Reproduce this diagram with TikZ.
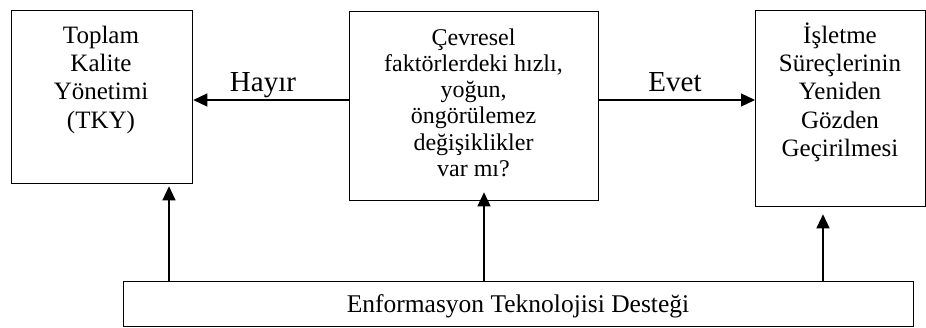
\documentclass[tikz,border=0pt]{standalone}
\usepackage{fontspec}
\setmainfont{Liberation Serif}
\usetikzlibrary{arrows.meta}
\begin{document}
\begin{tikzpicture}[x=1pt,y=-1pt,
  box/.style={draw,line width=1.3pt,inner sep=0pt,anchor=north west},
  boxtext/.style={align=center,inner sep=0pt,anchor=base,font=\fontsize{25}{28.4}\selectfont},
  lbl/.style={inner sep=0pt,anchor=base,font=\fontsize{29}{32}\selectfont},
  arr/.style={line width=1.3pt,-{Triangle[length=14pt,width=13pt]}}]
\useasboundingbox (0,0) rectangle (926,327);

% boxes
\node[box,minimum width=181pt,minimum height=173pt] (tky) at (11,10) {};
\node[box,minimum width=249pt,minimum height=189pt] (mid) at (349,11) {};
\node[box,minimum width=170pt,minimum height=196pt] (isr) at (755,10) {};
\node[box,minimum width=790pt,minimum height=45pt] (it) at (123,281) {};

% box texts (placed by the baseline of their last line)
\node[boxtext] (tkyt) at (101,128.2) {Toplam\\Kalite\\Yönetimi\\(TKY)};
\node[boxtext,font=\fontsize{24}{26.3}\selectfont] (midt) at (473.5,176.5) {Çevresel\\faktörlerdeki hızlı,\\yoğun,\\öngörülemez\\değişiklikler\\var mı?};
\node[boxtext] (isrt) at (840,156.6) {İşletme\\Süreçlerinin\\Yeniden\\Gözden\\Geçirilmesi};
\node[boxtext,font=\fontsize{25.5}{28}\selectfont] (itt) at (518,312) {Enformasyon Teknolojisi Desteği};

% decision arrows
\draw[arr] (mid.west |- 0,100) -- (tky.east |- 0,100);
\draw[arr] (mid.east |- 0,100) -- (isr.west |- 0,100);
\node[lbl] (hayir) at (263,91) {Hayır};
\node[lbl] (evet) at (675,91) {Evet};

% support arrows
\draw[arr,shorten >=2pt] (it.north -| 169,0) -- (tky.south -| 169,0);
\draw[arr,shorten >=-9pt] (it.north -| 484,0) -- (mid.south -| 484,0);
\draw[arr,shorten >=7pt] (it.north -| 823,0) -- (isr.south -| 823,0);
\end{tikzpicture}
\end{document}
